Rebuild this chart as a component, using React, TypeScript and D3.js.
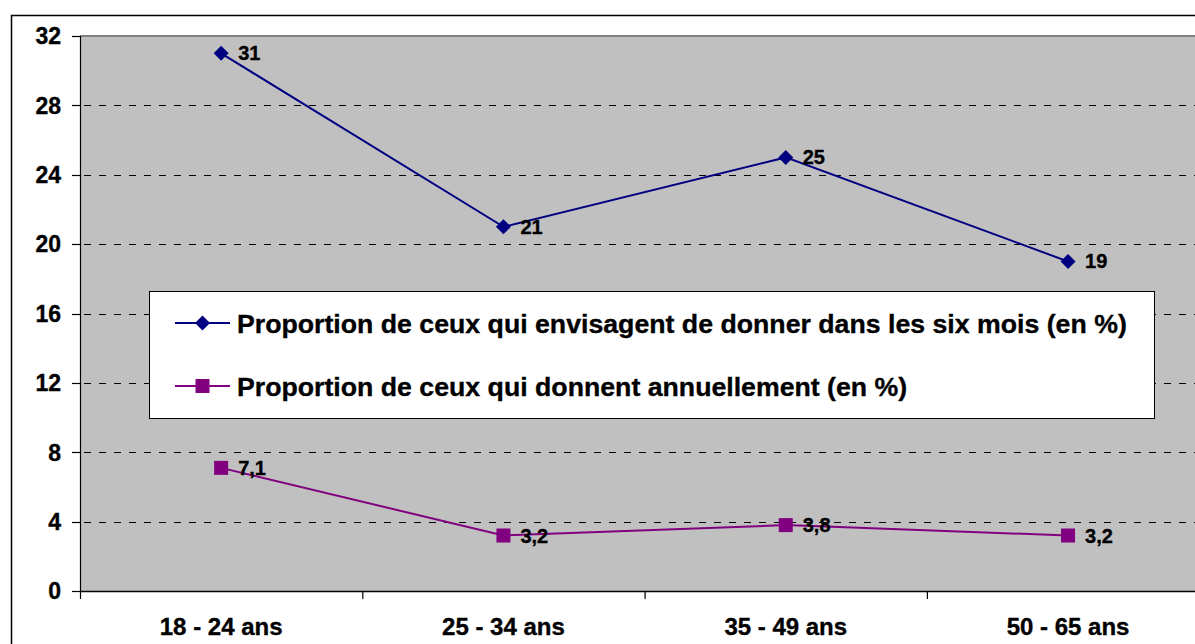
import React from "react";
import * as d3 from "d3";

const categories = ["18 - 24 ans", "25 - 34 ans", "35 - 49 ans", "50 - 65 ans"];
const envisagent = [31, 21, 25, 19];
const donnent = [7.1, 3.2, 3.8, 3.2];
const envisagentLabels = ["31", "21", "25", "19"];
const donnentLabels = ["7,1", "3,2", "3,8", "3,2"];
const yTicks = [0, 4, 8, 12, 16, 20, 24, 28, 32];
const legendNames = [
  "Proportion de ceux qui envisagent de donner dans les six mois (en %)",
  "Proportion de ceux qui donnent annuellement (en %)",
];

const W = 1195;
const H = 644;
const FONT = "'Liberation Sans', Arial, sans-serif";
const NAVY = "#000080";
const PURPLE = "#800080";

const plotLeft = 80;
const plotTop = 36;
const plotBottom = 591;
const bandW = 282.3;

function T({ x, y, size, anchor, children }: any) {
  return (
    <text
      x={x}
      y={y}
      fontFamily={FONT}
      fontWeight="bold"
      fontSize={size}
      textAnchor={anchor || "start"}
      fill="#000"
      stroke="#000"
      strokeWidth={0.35}
    >
      {children}
    </text>
  );
}

export default function App() {
  const x = d3
    .scaleBand<string>()
    .domain(categories)
    .range([plotLeft, plotLeft + bandW * categories.length])
    .paddingInner(0)
    .paddingOuter(0);
  const y = d3.scaleLinear().domain([0, 32]).range([plotBottom, plotTop]);
  const cx = (c: string) => (x(c) as number) + x.bandwidth() / 2;

  const line = d3
    .line<number>()
    .x((_, i) => cx(categories[i]))
    .y((d) => y(d));

  const plotRight = plotLeft + bandW * categories.length;

  const diamond = (px: number, py: number, r = 7.5) =>
    `M${px},${py - r}L${px + r},${py}L${px},${py + r}L${px - r},${py}Z`;

  const legX = 149;
  const legY = 291;
  const legW = 1005;
  const legH = 127;
  const rowY = [323, 386];

  return (
    <svg
      width={W}
      height={H}
      style={{ position: "absolute", left: 0, top: 0, background: "#fff" }}
    >
      <rect x={11.5} y={15.5} width={W} height={H} fill="#fff" stroke="#000" strokeWidth={1.5} />
      {/* plot area */}
      <rect x={plotLeft} y={plotTop} width={plotRight - plotLeft} height={plotBottom - plotTop} fill="#c0c0c0" />
      <line x1={plotLeft} x2={plotRight} y1={plotTop} y2={plotTop} stroke="#808080" strokeWidth={2} />
      {/* grid */}
      {yTicks
        .filter((t) => t > 0 && t < 32)
        .map((t) => (
          <line
            key={t}
            x1={plotLeft}
            x2={plotRight}
            y1={Math.round(y(t)) + 0.5}
            y2={Math.round(y(t)) + 0.5}
            stroke="#000"
            strokeWidth={1}
            strokeDasharray="7,8"
            strokeDashoffset={-4}
          />
        ))}
      {/* axes */}
      <line x1={plotLeft + 0.5} x2={plotLeft + 0.5} y1={plotTop} y2={plotBottom + 8} stroke="#000" strokeWidth={1.2} />
      <line x1={plotLeft} x2={plotRight} y1={plotBottom + 0.5} y2={plotBottom + 0.5} stroke="#000" strokeWidth={1.5} />
      {yTicks.map((t) => (
        <g key={t}>
          <line x1={plotLeft - 8} x2={plotLeft} y1={Math.round(y(t)) + 0.5} y2={Math.round(y(t)) + 0.5} stroke="#000" strokeWidth={1.2} />
          <T x={61} y={y(t) + 8.3} size={23} anchor="end">
            {String(t)}
          </T>
        </g>
      ))}
      {categories.map((c, i) => (
        <g key={c}>
          {i > 0 && (
            <line x1={(x(c) as number) + 0.5} x2={(x(c) as number) + 0.5} y1={plotBottom} y2={plotBottom + 8} stroke="#000" strokeWidth={1.2} />
          )}
          <T x={cx(c)} y={635} size={24} anchor="middle">
            {c}
          </T>
        </g>
      ))}
      {/* series */}
      <path d={line(envisagent) || ""} fill="none" stroke={NAVY} strokeWidth={2} />
      <path d={line(donnent) || ""} fill="none" stroke={PURPLE} strokeWidth={2} />
      {envisagent.map((v, i) => (
        <path key={"e" + i} d={diamond(cx(categories[i]), y(v))} fill={NAVY} />
      ))}
      {donnent.map((v, i) => (
        <rect key={"d" + i} x={cx(categories[i]) - 7} y={y(v) - 7} width={14} height={14} fill={PURPLE} />
      ))}
      {envisagent.map((v, i) => (
        <T key={"el" + i} x={cx(categories[i]) + 17} y={y(v) + 7} size={20}>
          {envisagentLabels[i]}
        </T>
      ))}
      {donnent.map((v, i) => (
        <T key={"dl" + i} x={cx(categories[i]) + 17} y={y(v) + 7} size={20}>
          {donnentLabels[i]}
        </T>
      ))}
      {/* legend */}
      <rect x={legX + 0.5} y={legY + 0.5} width={legW} height={legH} fill="#fff" stroke="#000" strokeWidth={1} />
      {legendNames.map((n, i) => (
        <g key={n}>
          <line x1={175} x2={230} y1={rowY[i]} y2={rowY[i]} stroke={i === 0 ? NAVY : PURPLE} strokeWidth={2} />
          {i === 0 ? (
            <path d={diamond(202.5, rowY[i])} fill={NAVY} />
          ) : (
            <rect x={195.5} y={rowY[i] - 7} width={14} height={14} fill={PURPLE} />
          )}
          <T x={237} y={rowY[i] + 10.3} size={26.7}>
            {n}
          </T>
        </g>
      ))}
    </svg>
  );
}
